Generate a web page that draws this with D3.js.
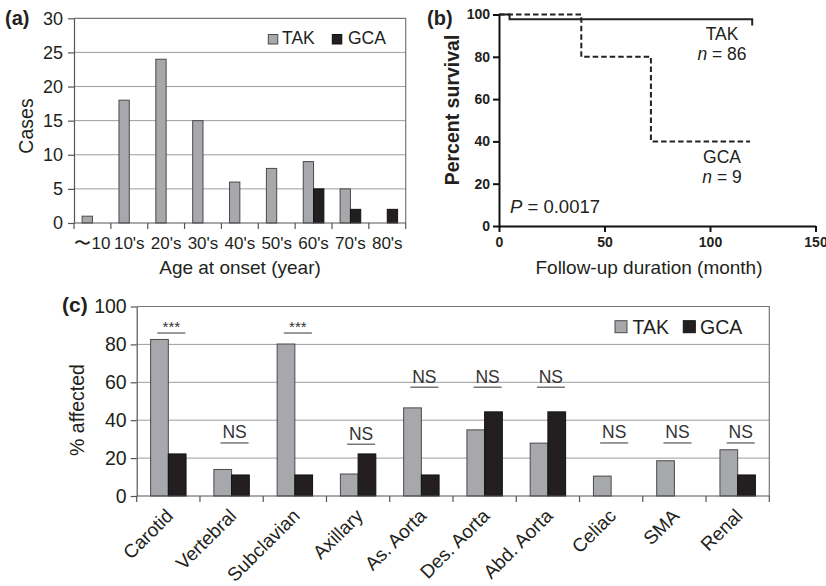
<!DOCTYPE html>
<html>
<head>
<meta charset="utf-8">
<script src="https://cdn.jsdelivr.net/npm/d3@7"></script>
<style>
body { margin: 0; background: #fff; }
svg { display: block; font-family: "Liberation Sans", Arial, sans-serif; }
</style>
</head>
<body>
<div id="chart-area"></div>
<script>
// (a) age at onset
var ageGroups = ['\u301c10', "10's", "20's", "30's", "40's", "50's", "60's", "70's", "80's"];
var takCases = [1, 18, 24, 15, 6, 8, 9, 5, 0];
var gcaCases = [0, 0, 0, 0, 0, 0, 5, 2, 2];
var casesTicks = [0, 5, 10, 15, 20, 25, 30];

// (b) survival curves
var takMonths = [0, 5, 120, 120.5];
var takSurvival = [100, 97.7, 95.3, 95.3];
var gcaMonths = [0, 39, 72, 119];
var gcaSurvival = [100, 80, 40, 40];
var survivalTicks = [0, 20, 40, 60, 80, 100];
var monthTicks = [0, 50, 100, 150];

// (c) affected arteries
var arteries = ['Carotid', 'Vertebral', 'Subclavian', 'Axillary', 'As. Aorta', 'Des. Aorta', 'Abd. Aorta', 'Celiac', 'SMA', 'Renal'];
var takPct = [82.6, 14.0, 80.2, 11.6, 46.5, 34.9, 27.9, 10.5, 18.6, 24.4];
var gcaPct = [22.2, 11.1, 11.1, 22.2, 11.1, 44.4, 44.4, 0, 0, 11.1];
var sigLabels = ['***', 'NS', '***', 'NS', 'NS', 'NS', 'NS', 'NS', 'NS', 'NS'];
var sigLevels = [86, 28, 86, 27.3, 57.4, 57.4, 57.4, 28, 28, 28];
var pctTicks = [0, 20, 40, 60, 80, 100];

var series = ['TAK', 'GCA'];
var fills = { TAK: '#a7a8ab', GCA: '#231f20' };
var strokes = { TAK: '#4a4a4a', GCA: '#111' };
var ink = '#231f20';

var svg = d3.select('#chart-area').append('svg')
	.attr('width', 826)
	.attr('height', 586);

// grouped bar panel used by (a) and (c)
function barPanel(opt) {
	var g = svg.append('g');
	var x = d3.scaleBand().domain(opt.cats).range([opt.left, opt.right]);
	var y = d3.scaleLinear().domain([0, opt.max]).range([opt.bottom, opt.top]);
	var bw = x.bandwidth();
	var sub = d3.scaleBand().domain(series).range([0.22 * bw, 0.78 * bw]);

	g.selectAll('.grid').data(opt.ticks.filter(d => d > 0 && d < opt.max)).enter()
		.append('line')
		.attr('x1', opt.left).attr('x2', opt.right)
		.attr('y1', d => y(d)).attr('y2', d => y(d))
		.attr('stroke', '#9d9d9d').attr('stroke-width', 1);

	// frame top + right
	g.append('path')
		.attr('d', `M${opt.left},${y(opt.max)}H${opt.right}V${opt.bottom}`)
		.attr('fill', 'none').attr('stroke', '#777').attr('stroke-width', 1.2);

	var rows = opt.cats.map((c, i) => ({ cat: c, TAK: opt.tak[i], GCA: opt.gca[i] }));
	var bars = [];
	rows.forEach(r => series.forEach(s => { if (r[s] > 0) bars.push({ cat: r.cat, key: s, value: r[s] }); }));

	g.selectAll('.bar').data(bars).enter()
		.append('rect')
		.attr('x', d => x(d.cat) + sub(d.key))
		.attr('y', d => y(d.value))
		.attr('width', sub.bandwidth())
		.attr('height', d => opt.bottom - y(d.value))
		.attr('fill', d => fills[d.key])
		.attr('stroke', d => strokes[d.key])
		.attr('stroke-width', 1);

	var yAxis = g.append('g')
		.attr('transform', `translate(${opt.left},0)`)
		.call(d3.axisLeft(y).tickValues(opt.ticks).tickSize(6).tickSizeOuter(0).tickPadding(opt.tickPad));
	yAxis.selectAll('path, line').attr('stroke', '#555').attr('stroke-width', 1.2);
	yAxis.selectAll('text').attr('font-size', opt.tickFont).attr('fill', ink).attr('font-family', null);

	// x axis: ticks at category boundaries
	g.append('line')
		.attr('x1', opt.left).attr('x2', opt.right)
		.attr('y1', opt.bottom).attr('y2', opt.bottom)
		.attr('stroke', '#555').attr('stroke-width', 1.2);
	g.selectAll('.xtick').data(d3.range(opt.cats.length + 1)).enter()
		.append('line')
		.attr('x1', i => opt.left + i * x.step()).attr('x2', i => opt.left + i * x.step())
		.attr('y1', opt.bottom).attr('y2', opt.bottom + 6)
		.attr('stroke', '#555').attr('stroke-width', 1.2);

	return { g: g, x: x, y: y };
}

// ---------- (a)
var pa = barPanel({ cats: ageGroups, tak: takCases, gca: gcaCases, max: 30, ticks: casesTicks,
	left: 74, right: 405.7, top: 18.3, bottom: 223, tickFont: 18, tickPad: 5 });

pa.g.selectAll('.xlab').data(ageGroups).enter()
	.append('text')
	.attr('x', d => pa.x(d) + pa.x.bandwidth() / 2)
	.attr('y', 249)
	.attr('text-anchor', 'middle')
	.attr('font-size', 17)
	.attr('fill', ink)
	.text(d => d);

pa.g.append('text')
	.attr('x', 240).attr('y', 274)
	.attr('text-anchor', 'middle').attr('font-size', 19).attr('fill', ink)
	.text('Age at onset (year)');

pa.g.append('text')
	.attr('transform', 'translate(33,126) rotate(-90)')
	.attr('text-anchor', 'middle').attr('font-size', 19.5).attr('fill', ink)
	.text('Cases');

pa.g.append('text')
	.attr('x', 5).attr('y', 25)
	.attr('font-size', 20).attr('font-weight', 'bold').attr('fill', ink)
	.text('(a)');

var legA = pa.g.append('g');
[['TAK', 268.3, 282], ['GCA', 332.3, 348]].forEach(l => {
	legA.append('rect').attr('x', l[1]).attr('y', 34.5).attr('width', 9.5).attr('height', 9.5)
		.attr('fill', fills[l[0]]).attr('stroke', strokes[l[0]]);
	legA.append('text').attr('x', l[2]).attr('y', 44).attr('font-size', 17.5).attr('fill', ink).text(l[0]);
});

// ---------- (b)
var gb = svg.append('g');
var bx = d3.scaleLinear().domain([0, 150]).range([499, 815.5]);
var by = d3.scaleLinear().domain([0, 100]).range([226, 14.5]);

var kmLine = d3.line().x(d => bx(d[0])).y(d => by(d[1])).curve(d3.curveStepAfter);

gb.append('path')
	.datum(d3.zip(gcaMonths, gcaSurvival))
	.attr('d', kmLine)
	.attr('fill', 'none').attr('stroke', '#222').attr('stroke-width', 2)
	.attr('stroke-dasharray', '5.5,3');

gb.append('path')
	.datum(d3.zip(takMonths, takSurvival))
	.attr('d', kmLine)
	.attr('fill', 'none').attr('stroke', '#222').attr('stroke-width', 2);

var byAxis = gb.append('g').attr('transform', 'translate(499,0)')
	.call(d3.axisLeft(by).tickValues(survivalTicks).tickSize(6).tickSizeOuter(0).tickPadding(3));
var bxAxis = gb.append('g').attr('transform', 'translate(0,226)')
	.call(d3.axisBottom(bx).tickValues(monthTicks).tickSize(6).tickSizeOuter(0).tickPadding(5));
[byAxis, bxAxis].forEach(a => {
	a.selectAll('path, line').attr('stroke', '#111').attr('stroke-width', 2);
	a.selectAll('text').attr('font-size', 14).attr('font-weight', 'bold').attr('fill', ink).attr('font-family', null);
});

gb.append('text')
	.attr('transform', 'translate(459,110) rotate(-90)')
	.attr('text-anchor', 'middle').attr('font-size', 19.5).attr('font-weight', 'bold').attr('fill', ink)
	.text('Percent survival');

gb.append('text')
	.attr('x', 649).attr('y', 274)
	.attr('text-anchor', 'middle').attr('font-size', 19).attr('fill', ink)
	.text('Follow-up duration (month)');

gb.append('text')
	.attr('x', 427).attr('y', 25)
	.attr('font-size', 20).attr('font-weight', 'bold').attr('fill', ink)
	.text('(b)');

function groupLabel(name, n, cx, y) {
	gb.append('text').attr('x', cx).attr('y', y).attr('text-anchor', 'middle')
		.attr('font-size', 17.5).attr('fill', ink).text(name);
	var t = gb.append('text').attr('x', cx).attr('y', y + 20).attr('text-anchor', 'middle')
		.attr('font-size', 17.5).attr('fill', ink);
	t.append('tspan').attr('font-style', 'italic').text('n');
	t.append('tspan').text(' = ' + n);
}
groupLabel('TAK', 86, 722, 40);
groupLabel('GCA', 9, 722, 163);

var pText = gb.append('text').attr('x', 510).attr('y', 213).attr('font-size', 18.5).attr('fill', ink);
pText.append('tspan').attr('font-style', 'italic').text('P');
pText.append('tspan').text(' = 0.0017');

// ---------- (c)
var pc = barPanel({ cats: arteries, tak: takPct, gca: gcaPct, max: 100, ticks: pctTicks,
	left: 136.7, right: 769.3, top: 306.5, bottom: 496, tickFont: 19.5, tickPad: 4 });

pc.g.selectAll('.xlab').data(arteries).enter()
	.append('text')
	.attr('transform', d => `translate(${pc.x(d) + pc.x.bandwidth() / 2 + 6},${517}) rotate(-45)`)
	.attr('text-anchor', 'end')
	.attr('font-size', 19)
	.attr('fill', ink)
	.text(d => d);

pc.g.append('text')
	.attr('transform', 'translate(84,410) rotate(-90)')
	.attr('text-anchor', 'middle').attr('font-size', 19.5).attr('fill', ink)
	.text('% affected');

pc.g.append('text')
	.attr('x', 62).attr('y', 312)
	.attr('font-size', 21).attr('font-weight', 'bold').attr('fill', ink)
	.text('(c)');

var legC = pc.g.append('g');
[['TAK', 615, 632.5], ['GCA', 683.3, 700]].forEach(l => {
	legC.append('rect').attr('x', l[1]).attr('y', 320.7).attr('width', 12).attr('height', 12)
		.attr('fill', fills[l[0]]).attr('stroke', strokes[l[0]]);
	legC.append('text').attr('x', l[2]).attr('y', 333.5).attr('font-size', 19.5).attr('fill', ink).text(l[0]);
});

// significance marks
var sig = pc.g.selectAll('.sig').data(arteries.map((a, i) => ({ cat: a, label: sigLabels[i], level: sigLevels[i] })))
	.enter().append('g')
	.attr('transform', d => `translate(${pc.x(d.cat) + pc.x.bandwidth() / 2 + 3},${pc.y(d.level)})`);
sig.append('line')
	.attr('x1', -14).attr('x2', 14)
	.attr('stroke', '#777').attr('stroke-width', 1.5);
sig.append('text')
	.attr('y', d => d.label === 'NS' ? -4.5 : -1)
	.attr('text-anchor', 'middle')
	.attr('font-size', d => d.label === 'NS' ? 17.5 : 15)
	.attr('fill', '#333')
	.text(d => d.label);
</script>
</body>
</html>
